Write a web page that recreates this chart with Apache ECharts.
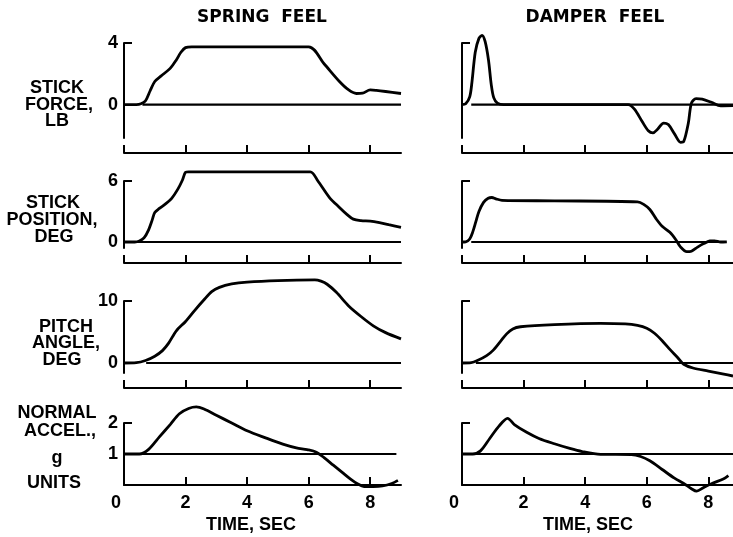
<!DOCTYPE html>
<html><head><meta charset="utf-8">
<script src="https://cdn.jsdelivr.net/npm/echarts@6/dist/echarts.min.js"></script>
<style>html,body{margin:0;padding:0;background:#fff}#c{width:733px;height:537px}</style>
</head><body><div id="c"></div>
<script>
// ---------------- data ----------------
const columnTitles = ['SPRING  FEEL', 'DAMPER  FEEL'];
const xTitle = 'TIME, SEC';
const rowLabels = [
  ['STICK', 'FORCE,', 'LB'],
  ['STICK', 'POSITION,', 'DEG'],
  ['PITCH', 'ANGLE,', 'DEG'],
  ['NORMAL', 'ACCEL.,', 'g', 'UNITS']
];
const xTicks = [0, 2, 4, 6, 8];
const yTickLabels = [[4, 0], [6, 0], [10, 0], [2, 1]];
const yMax = [4, 6, 10, 2];
const refLevel = [0, 0, 0, 1];
const xMax = [9, 8.8];

const springForce = [[0,0],[0.4,0],[0.55,0.05],[0.7,0.25],[0.85,0.9],[1.0,1.5],[1.2,1.85],[1.5,2.35],[1.7,2.9],[1.85,3.4],[2.0,3.7],[2.2,3.75],[6.0,3.75],[6.5,2.65],[7.0,1.5],[7.3,0.95],[7.55,0.72],[7.75,0.74],[8.0,0.95],[8.2,0.92],[8.5,0.85],[9.0,0.72]];
const damperForce = [[0,0],[0.12,0.05],[0.25,0.5],[0.32,1.4],[0.43,3.4],[0.55,4.3],[0.65,4.5],[0.75,4.1],[0.86,2.9],[0.95,1.3],[1.03,0.45],[1.15,0.1],[1.35,0],[5.4,0],[5.6,-0.3],[5.85,-1.1],[6.05,-1.7],[6.2,-1.84],[6.35,-1.6],[6.55,-1.2],[6.7,-1.3],[6.9,-1.9],[7.1,-2.45],[7.2,-2.4],[7.35,-1.2],[7.45,0.1],[7.6,0.39],[7.8,0.35],[8.1,0.15],[8.4,-0.08],[8.8,-0.07]];
const springPosition = [[0,0],[0.35,0],[0.5,0.1],[0.65,0.4],[0.8,1.2],[0.92,2.2],[1.0,2.9],[1.15,3.3],[1.35,3.75],[1.55,4.3],[1.75,5.2],[1.9,6.1],[2.0,6.85],[2.1,6.9],[6.05,6.9],[6.3,6.0],[6.67,4.4],[7.0,3.4],[7.25,2.7],[7.45,2.25],[7.7,2.1],[8.0,2.05],[8.3,1.9],[8.6,1.7],[9.0,1.45]];
const damperPosition = [[0,0],[0.12,0.02],[0.25,0.3],[0.35,1.0],[0.45,2.0],[0.55,3.0],[0.7,3.9],[0.85,4.3],[0.97,4.38],[1.1,4.25],[1.3,4.1],[3.0,4.05],[5.7,3.95],[5.9,3.7],[6.1,3.2],[6.3,2.3],[6.5,1.55],[6.75,0.95],[6.95,0.2],[7.1,-0.5],[7.3,-0.95],[7.45,-0.9],[7.65,-0.5],[7.85,-0.15],[8.05,0.1],[8.2,0.12],[8.4,0.0],[8.6,0.02]];
const springPitch = [[0,0],[0.4,0.05],[0.7,0.4],[1.0,1.1],[1.25,2.0],[1.45,3.2],[1.7,5.2],[2.0,6.7],[2.3,8.5],[2.6,10.2],[2.85,11.5],[3.1,12.2],[3.5,12.75],[4.0,13.05],[5.0,13.3],[6.2,13.4],[6.4,13.2],[6.6,12.7],[6.9,11.4],[7.3,9.2],[7.7,7.5],[8.1,6.0],[8.5,4.9],[9.0,3.9]];
const damperPitch = [[0,0],[0.3,0.05],[0.5,0.4],[0.8,1.2],[1.0,2.0],[1.25,3.5],[1.45,4.7],[1.65,5.5],[1.9,5.85],[3.0,6.2],[4.5,6.4],[5.3,6.3],[5.7,6.05],[6.0,5.6],[6.25,4.8],[6.5,3.6],[6.75,2.2],[7.0,0.9],[7.2,-0.2],[7.5,-0.8],[8.0,-1.3],[8.5,-1.8],[8.8,-2.1]];
const springAccel = [[0,1],[0.5,1.0],[0.8,1.15],[1.15,1.55],[1.5,1.95],[1.8,2.3],[2.1,2.47],[2.35,2.52],[2.6,2.45],[3.0,2.25],[3.5,2.0],[4.0,1.75],[4.6,1.52],[5.16,1.32],[5.6,1.2],[5.95,1.14],[6.25,1.06],[6.5,0.88],[6.8,0.64],[7.1,0.4],[7.35,0.2],[7.6,0.03],[7.8,-0.05],[8.1,-0.05],[8.4,-0.03],[8.7,0.05],[8.9,0.15]];
const damperAccel = [[0,1],[0.35,1.0],[0.6,1.1],[0.9,1.5],[1.2,1.9],[1.48,2.15],[1.7,1.95],[2.1,1.7],[2.5,1.5],[3.0,1.33],[3.5,1.18],[3.9,1.08],[4.5,0.99],[5.5,0.98],[5.8,0.92],[6.1,0.78],[6.5,0.5],[6.9,0.22],[7.2,0.05],[7.45,-0.12],[7.62,-0.2],[7.85,-0.08],[8.1,0.04],[8.5,0.2],[8.65,0.3]];

// reference (zero / 1 g) line spans [start, end] in seconds, per row: [spring, damper]
const refSpans = [[[0.6,9],[0.3,8.8]], [[0.3,9],[0.3,8.5]], [[0.72,9],[0.45,8.8]], [[0,8.85],[0.3,8.8]]];
const curves = [[springForce, damperForce], [springPosition, damperPosition], [springPitch, damperPitch], [springAccel, damperAccel]];

// ---------------- layout ----------------
const colLeft = [124, 462], colWidth = [277, 271];
const rowTop = [43, 181, 301, 423], rowH = [95, 67, 72, 62];
const yMin = [-2.17, -0.588, -1.61, 0];
const xOffset = [15, 15, 15, 0];
const FONT = 'Liberation Sans';
const numStyle = { color: '#000', fontFamily: FONT, fontWeight: 'bold', fontSize: 18 };

const grids = [], xAxes = [], yAxes = [], series = [];
for (let r = 0; r < 4; r++) {
  for (let c = 0; c < 2; c++) {
    const i = grids.length;
    grids.push({ left: colLeft[c], width: colWidth[c], top: rowTop[r], height: rowH[r], containLabel: false });
    xAxes.push({
      gridIndex: i, type: 'value', min: 0, max: xMax[c], offset: xOffset[r],
      axisLine: { show: true, onZero: false, lineStyle: { color: '#000', width: 2 } },
      axisTick: { show: true, inside: true, length: 8, customValues: xTicks, lineStyle: { color: '#000', width: 2 } },
      axisLabel: Object.assign({
        show: r === 3, customValues: xTicks, margin: 9,
        formatter: v => (xTicks.indexOf(v) < 0 ? '' : (v === 0 ? '{z|0}' : String(v))),
        rich: { z: Object.assign({ padding: [0, 16, 0, 0] }, numStyle) }
      }, numStyle),
      splitLine: { show: false }
    });
    yAxes.push({
      gridIndex: i, type: 'value', min: yMin[r], max: yMax[r],
      axisLine: { show: true, onZero: false, lineStyle: { color: '#000', width: 2 } },
      axisTick: { show: true, inside: true, length: 8, customValues: [yMax[r]], lineStyle: { color: '#000', width: 2 } },
      axisLabel: Object.assign({ show: c === 0, customValues: yTickLabels[r], margin: 6,
        formatter: v => (yTickLabels[r].indexOf(v) < 0 ? '' : String(v)) }, numStyle),
      splitLine: { show: false }
    });
    series.push({
      type: 'line', xAxisIndex: i, yAxisIndex: i, data: curves[r][c],
      symbol: 'none', smooth: 0.3, clip: false, z: 3,
      lineStyle: { color: '#000', width: 2.8 }
    });
    const s = refSpans[r][c];
    series.push({
      type: 'line', xAxisIndex: i, yAxisIndex: i,
      data: [[s[0], refLevel[r]], [s[1], refLevel[r]]],
      symbol: 'none', clip: false, z: 2,
      lineStyle: { color: '#000', width: 2.2 }
    });
  }
}

const txt = (t, x, y, size, fam) => ({
  type: 'text', x: x, y: y, z: 10,
  style: { text: t, fill: '#000', font: 'bold ' + size + 'px "' + (fam || FONT) + '"', align: 'center', verticalAlign: 'middle' }
});
const labelPos = [
  [[57, 88], [59, 105], [57, 121.5]],
  [[53, 203], [52, 220], [54, 237]],
  [[66, 327], [66, 343], [62, 360]],
  [[57, 413], [60, 431], [57, 458], [54, 483]]
];
const graphics = [
  txt(columnTitles[0], 262, 18, 17, 'DejaVu Sans'),
  txt(columnTitles[1], 595, 18, 17, 'DejaVu Sans'),
  txt(xTitle, 251, 525, 18),
  txt(xTitle, 588, 525, 18)
];
rowLabels.forEach((lines, r) => lines.forEach((t, k) => graphics.push(txt(t, labelPos[r][k][0], labelPos[r][k][1], 18))));

const chart = echarts.init(document.getElementById('c'), null, { renderer: 'canvas' });
chart.setOption({
  animation: false,
  backgroundColor: '#fff',
  grid: grids, xAxis: xAxes, yAxis: yAxes, series: series,
  graphic: graphics
});
</script>
</body></html>
